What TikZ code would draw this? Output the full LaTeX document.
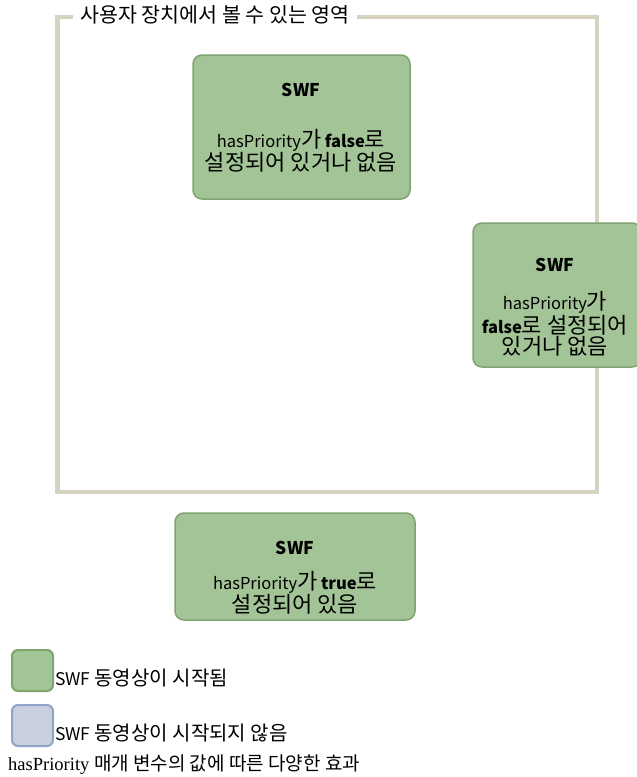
\documentclass[tikz,border=0pt]{standalone}
\usepackage{fontspec}
\setmainfont{Noto Sans CJK KR}
\newfontfamily\capserif{Liberation Serif}
\newfontfamily\cjk{Noto Sans CJK KR}
\newcommand\kb[1]{{\fontsize{22}{22}\selectfont #1}}
\newcommand\kl[1]{{\fontsize{20}{22}\selectfont #1}}
\definecolor{frameC}{HTML}{D6D3C0}
\definecolor{gfill}{HTML}{A3C496}
\definecolor{gline}{HTML}{7FA56F}
\definecolor{bfill}{HTML}{C8D0E0}
\definecolor{bline}{HTML}{8FA5C8}
\tikzset{
  swfbox/.style={draw=gline, fill=gfill, line width=1.5pt, rounded corners=9pt},
  legbox/.style={line width=2pt, rounded corners=6pt, minimum width=41pt, minimum height=41pt, inner sep=0pt},
  txt/.style={align=center, font=\fontsize{16.5}{21.5}\selectfont, inner sep=0pt},
  swft/.style={inner sep=0pt, font=\fontsize{17.5}{20}\selectfont\bfseries},
  ltxt/.style={anchor=west, inner sep=0pt, font=\fontsize{17.5}{20}\selectfont},
  frameline/.style={draw=frameC, line width=4.5pt}
}
\begin{document}
\begin{tikzpicture}[x=1pt,y=-1pt]
\useasboundingbox (0,0) rectangle (637,777);
% frame
\coordinate (f1) at (73,17);
\coordinate (f2) at (357,17);
\draw[frameline] (f1) -- (57.5,17) -- (57.5,492) -- (597,492) -- (597,17) -- (f2);
\node[anchor=west, inner sep=0pt, font=\fontsize{20.6}{22}\selectfont] (title) at (80,15) {사용자 장치에서 볼 수 있는 영역};
% box 1
\draw[swfbox] (193,55) rectangle (410,199);
\node[swft] (s1) at (301,90) {SWF};
\node[txt] (t1) at (301,151) {hasPriority\kb{가} \textbf{false}\kb{로}\\\kb{설정되어 있거나 없음}};
% box 2
\draw[swfbox] (473,223) rectangle (641,367);
\node[swft] (s2) at (555,265) {SWF};
\node[txt] (t2) at (555,324) {hasPriority\kb{가}\\\textbf{false}\kb{로 설정되어}\\\kb{있거나 없음}};
% box 3
\draw[swfbox] (175,513) rectangle (415,620);
\node[swft] (s3) at (295,548) {SWF};
\node[txt] (t3) at (295,593) {hasPriority\kb{가} \textbf{true}\kb{로}\\\kb{설정되어 있음}};
% legend
\node[legbox, draw=gline, fill=gfill, anchor=north west] (lg) at (11,649) {};
\node[ltxt] (lgt) at (55,678) {SWF \kl{동영상이 시작됨}};
\node[legbox, draw=bline, fill=bfill, anchor=north west] (lb) at (11,704) {};
\node[ltxt] (lbt) at (55,733) {SWF \kl{동영상이 시작되지 않음}};
\node[anchor=west, inner sep=0pt, font=\fontsize{18.5}{20}\selectfont] (cap) at (8,765) {{\capserif hasPriority }{\cjk\fontsize{19}{20}\selectfont 매개 변수의 값에 따른 다양한 효과}};
\end{tikzpicture}
\end{document}
